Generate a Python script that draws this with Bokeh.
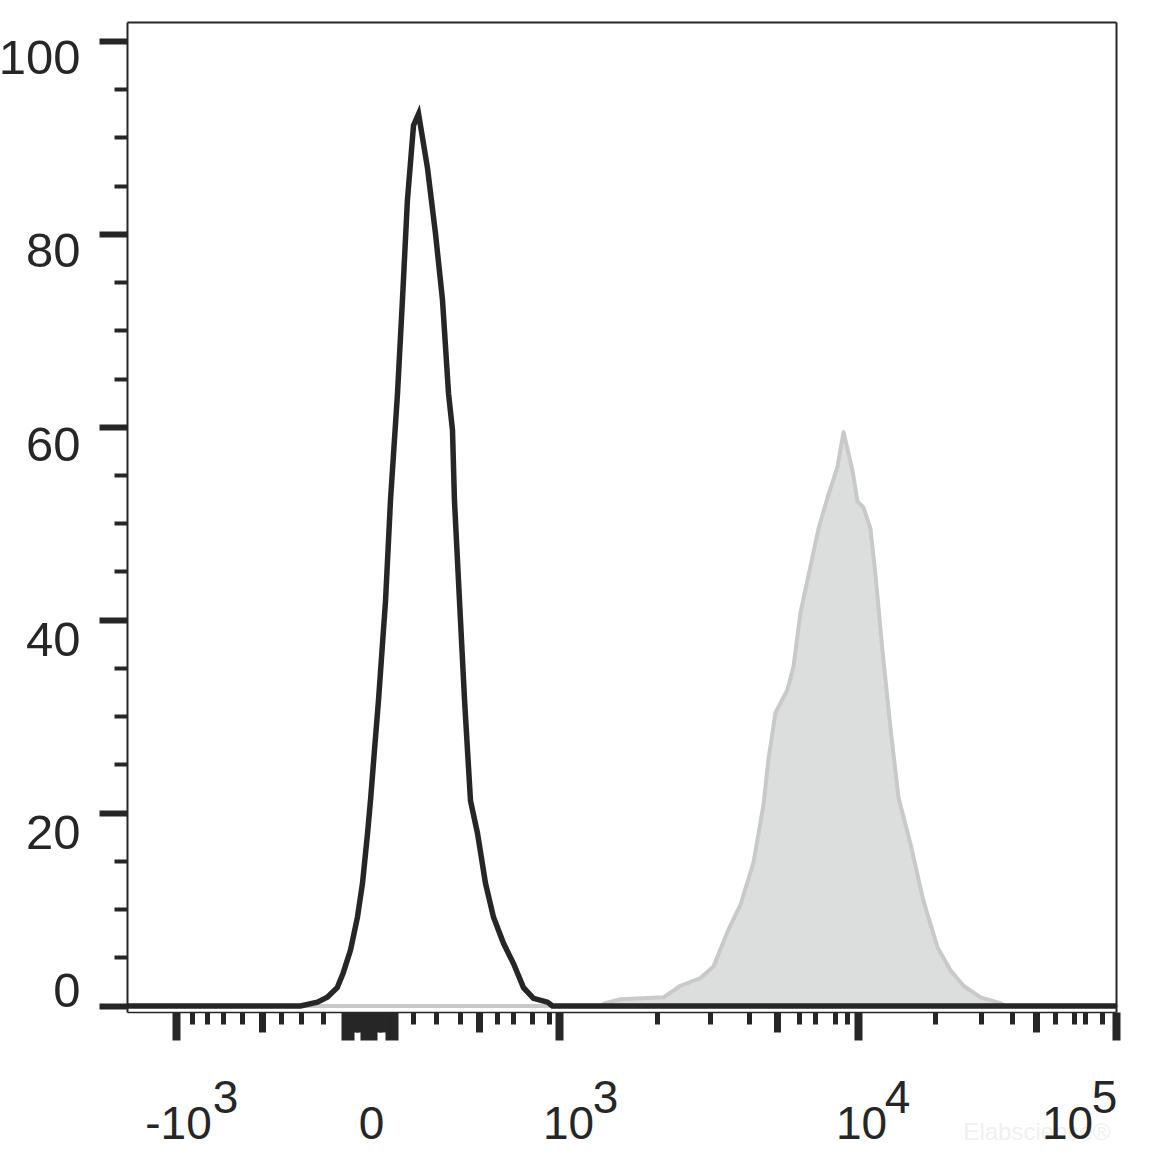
from bokeh.plotting import figure
from bokeh.models import (Range1d, FixedTicker, LinearAxis, CustomJSTickFormatter)
from bokeh.core.properties import value
from bokeh.embed import file_html
from bokeh.resources import INLINE

# ---------------- data (x in display channels of the biexponential axis, 0..1000) -------------
iso_x = [0, 175, 192, 202, 212, 218, 225.5, 232.5, 237.6, 242.7, 245.7, 249.7, 253.8, 260.9,
         265.9, 273, 278, 283, 289.2, 294.3, 303.3, 311.4, 318.5, 324.6, 328.6, 330.6, 335.7,
         340.8, 346.8, 353.9, 362, 370.1, 380.2, 390.3, 400.4, 410.5, 424.7, 429.7, 1000]
iso_y = [0, 0, 0.4, 0.9, 1.9, 3.4, 5.8, 9.2, 12.7, 17.9, 21.3, 26.5, 31.7, 42.0,
         52.4, 63.5, 73.2, 83.5, 91.3, 92.5, 86.9, 80.1, 73.2, 63.5, 59.7, 52.4, 42.0,
         31.7, 21.3, 17.9, 12.7, 9.2, 6.5, 4.4, 1.9, 0.8, 0.4, 0, 0]

stain_x = [0, 478, 483.3, 498.5, 542, 559.1, 579.4, 592.5, 606.7, 619.8, 633, 643, 648.1,
           655.2, 667.3, 673.4, 680.5, 690.6, 698.7, 707.8, 717.9, 724, 733.1, 738.1, 744.2,
           751.2, 756.3, 763.4, 771.5, 779.6, 791.7, 804.8, 819, 832.1, 845.3, 862.5, 882.7,
           887.7, 1000]
stain_y = [0, 0, 0.3, 0.7, 0.9, 2.1, 2.9, 4.1, 7.7, 10.5, 14.9, 20.8, 25.6,
           30.4, 32.8, 35.2, 40.8, 45.6, 49.5, 52.7, 55.9, 59.5, 55.5, 52.3, 51.7,
           49.5, 44.7, 36.8, 28.8, 21.6, 16.8, 10.9, 6.1, 3.7, 2.1, 0.9, 0.3,
           0, 0]

# x-axis tick positions (display channels)
x_ticks_long = [49.5, 220.4, 225.5, 239.7, 244.7, 248.8, 264.9, 270.0, 436.8, 739.1, 1000.5]
x_ticks_medium = [136.5, 230.5, 234.6, 253.8, 257.8, 355.9, 657.2, 919.1]
x_ticks_short = [65.7, 80.9, 97.1, 116.3, 155.7, 175.9, 198.2, 289.2, 312.4, 336.7, 374.1,
                 390.3, 409.5, 426.7, 535.9, 589.5, 628.9, 679.5, 695.6, 715.9, 728.0,
                 817.0, 863.5, 894.8, 938.3, 957.5, 968.6, 985.8]
# x tick labels: base text and raised exponent, with their centre positions
x_base_text = ["-10", "0", "10", "10", "10"]
x_base_pos = [51.6, 246.7, 445.9, 742.2, 950.5]
x_exp_text = ["3", "3", "4", "5"]
x_exp_pos = [99.1, 483.3, 778.6, 987.9]

# y axis
y_ticks = [0, 20, 40, 60, 80, 100]
y_minor = [5, 10, 15, 25, 30, 35, 45, 50, 55, 65, 70, 75, 85, 90, 95]
y_label_text = ["0", "20", "40", "60", "80", "100"]
y_label_pos = [1.61, 17.94, 38.05, 58.17, 78.28, 98.29]

# ---------------- layout / style ----------------
W, H = 1140, 1150
PXX = 0.989          # pixels per display channel
PXY = 9.645          # pixels per percent
LEFT_PX, ZERO_PX = 127, 1005.5
X_START, X_END = -LEFT_PX / PXX, (W - LEFT_PX) / PXX
Y_END, Y_START = ZERO_PX / PXY, (ZERO_PX - H) / PXY
Y_FB, Y_FT = -6.5 / PXY, 983.5 / PXY      # plot box bottom / top
X_FL, X_FR = 0, 1000.5                    # plot box left / right
INK = "#262626"
FONT = "Liberation Sans"

p = figure(width=W, height=H, x_range=Range1d(X_START, X_END), y_range=Range1d(Y_START, Y_END),
           output_backend="svg", toolbar_location=None, tools="",
           x_axis_type=None, y_axis_type=None,
           min_border_left=0, min_border_right=0, min_border_top=0, min_border_bottom=0)
p.grid.visible = False
p.outline_line_color = None
p.background_fill_color = "white"
p.border_fill_color = "white"

blank = CustomJSTickFormatter(code="return ''")


def plain_axis(side, loc, bounds, ticker, formatter):
    ax = LinearAxis(fixed_location=loc, bounds=bounds, ticker=ticker, formatter=formatter)
    ax.axis_line_color = INK
    ax.major_tick_in = 0
    ax.minor_tick_in = 0
    p.add_layout(ax, side)
    return ax


# histograms
p.patch(stain_x, stain_y, fill_color="#dcdedd", line_color="#c9c9c9", line_width=4,
        line_join="round")
p.line(iso_x, iso_y, line_color=INK, line_width=5.5, line_join="miter")

# ---- x axis: ticks
xa = plain_axis("below", Y_FB, (X_FL, X_FR),
                FixedTicker(ticks=x_ticks_long, minor_ticks=x_ticks_short + x_ticks_medium), blank)
xa.axis_line_width = 1.5
xa.major_tick_line_color = INK
xa.major_tick_line_width = 8
xa.major_tick_out = 28
xa.minor_tick_line_color = INK
xa.minor_tick_line_width = 5
xa.minor_tick_out = 12

# medium-length x ticks
p.segment(x0=x_ticks_medium, y0=[Y_FB] * len(x_ticks_medium),
          x1=x_ticks_medium, y1=[Y_FB - 20 / PXY] * len(x_ticks_medium),
          line_color=INK, line_width=7)


def label_axis(side, loc, positions, texts, standoff, size):
    ax = LinearAxis(fixed_location=loc, ticker=FixedTicker(ticks=positions, minor_ticks=[]),
                    major_label_overrides={pos: t for pos, t in zip(positions, texts)})
    ax.axis_line_color = None
    ax.major_tick_line_color = None
    ax.minor_tick_line_color = None
    ax.major_tick_out = 0
    ax.major_tick_in = 0
    ax.major_label_standoff = standoff
    ax.major_label_text_font = FONT
    ax.major_label_text_font_size = size
    ax.major_label_text_color = INK
    p.add_layout(ax, side)
    return ax


label_axis("below", Y_FB, x_base_pos, x_base_text, 94, "46px")
label_axis("below", Y_FB, x_exp_pos, x_exp_text, 68, "46px")

# ---- y axis: ticks
ya = plain_axis("left", X_FL, (Y_FB, Y_FT), FixedTicker(ticks=y_ticks, minor_ticks=y_minor), blank)
ya.axis_line_width = 2
ya.major_tick_line_color = INK
ya.major_tick_line_width = 6
ya.major_tick_out = 28
ya.minor_tick_line_color = INK
ya.minor_tick_line_width = 4
ya.minor_tick_out = 13

label_axis("left", X_FL, y_label_pos, y_label_text, 47, "49px")

# ---- box top and right edges
for side, loc, bnds in (("above", Y_FT, (X_FL, X_FR)), ("right", X_FR, (Y_FB, Y_FT))):
    ax = plain_axis(side, loc, bnds, FixedTicker(ticks=[], minor_ticks=[]), blank)
    ax.axis_line_width = 2
    ax.major_tick_line_color = None
    ax.minor_tick_line_color = None

# faint watermark
p.text(x=[993.9], y=[-13.0], text=["Elabscience\u00ae"], text_align="right",
       text_baseline="alphabetic", text_font=value(FONT), text_font_size="24px",
       text_color="#f0f0f0")

open("out.html", "w").write(file_html(p, INLINE))
